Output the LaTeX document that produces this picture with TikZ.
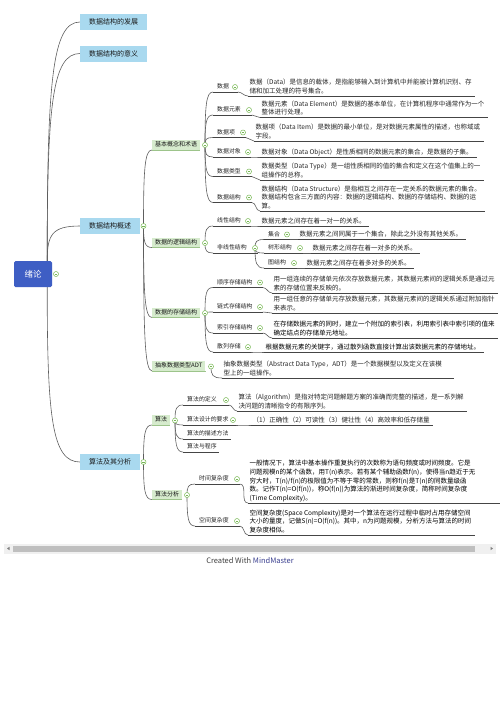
\documentclass[tikz,border=0pt]{standalone}
\usepackage{fontspec}
\setmainfont{Noto Sans CJK SC}
\usetikzlibrary{calc}
\pgfdeclarelayer{bg}
\pgfdeclarelayer{paper}
\pgfsetlayers{paper,bg,main}
\definecolor{rootblue}{HTML}{3E5EC4}
\definecolor{lonebg}{HTML}{A9D9EF}
\definecolor{ltwobg}{HTML}{D6EBCD}
\definecolor{ltwoln}{HTML}{9DC48B}
\definecolor{conncol}{HTML}{5E5E5E}
\definecolor{ulcol}{HTML}{454545}
\definecolor{toggcol}{HTML}{78B955}
\definecolor{txtcol}{HTML}{262626}
\definecolor{mmblue}{HTML}{3A3F8F}
\newcommand\leaffont{\fontsize{6.5}{8.6}\selectfont}
\newcommand\labfont{\fontsize{5.9}{7}\selectfont}
\tikzset{
 rootbox/.style={fill=rootblue,text=white,minimum width=38pt,minimum height=26pt,inner sep=0pt,rounded corners=1.5pt,font=\fontsize{8.5}{10}\selectfont},
 lonebox/.style={fill=lonebg,anchor=west,minimum height=16pt,inner xsep=9pt,inner ysep=0pt,text=black!90,font=\fontsize{7}{8}\selectfont},
 ltwobox/.style={fill=ltwobg,anchor=south west,inner xsep=3pt,inner ysep=2pt,text height=4.6pt,text depth=1.2pt,text=black!90,font=\fontsize{6}{7}\selectfont},
 lab/.style={anchor=south west,inner xsep=4pt,inner ysep=1.6pt,text height=4.6pt,text depth=1.3pt,text=txtcol,font=\labfont},
 leafnode/.style={anchor=south west,align=left,inner xsep=1.5pt,inner ysep=0.9pt,text=txtcol,font=\leaffont,execute at end node={\rule[-1.6pt]{0pt}{1.6pt}}},
 tog/.style={circle,draw=toggcol,fill=white,line width=0.5pt,minimum size=5pt,inner sep=0pt,path picture={\draw[toggcol,line width=0.5pt] ([xshift=-1.3pt]path picture bounding box.center) -- ([xshift=1.3pt]path picture bounding box.center);}},
 conn/.style={draw=conncol,line width=0.6pt},
 ul/.style={draw=ulcol,line width=0.6pt},
 elbow/.style={to path={let \p1=(\tikztostart),\p2=(\tikztotarget) in .. controls (\x1,{\y2+0.25*(\y1-\y2)}) and ({\x1+0.15*(\x2-\x1)},\y2) .. (\tikztotarget)}},
 scurve/.style={out=0,in=180},
}
\newcommand\labc[5]{%
  \node[lab] (#1) at (#2,#3) {#4};
  \node[tog] (#1c) at (#5,#3-5) {};
  \draw[ul] (#1.south west) -- (#1c.east |- #1.south);}
\newcommand\labn[4]{%
  \node[lab] (#1) at (#2,#3) {#4};
  \draw[ul] (#1.south west) -- ([xshift=-2pt]#1.south east);}
\newcommand\leafx[5]{%
  \node[leafnode] (#1) at (#2,#3) {#5};
  \draw[ul] (#1.south west) -- ([xshift=#4pt]#1.south east);}
\begin{document}
\begin{tikzpicture}[x=1pt,y=-1pt]
\begin{pgfonlayer}{paper}
\fill[white] (0,0) rectangle (500,707);
\end{pgfonlayer}
\useasboundingbox (0,0) rectangle (500,707);

% root and level 1
\node[rootbox] (root) at (33,274) {绪论};
\node[lonebox] (dev) at (80,22) {数据结构的发展};
\node[lonebox] (mean) at (80,53.5) {数据结构的意义};
\node[lonebox] (ovw) at (80,226) {数据结构概述};
\node[lonebox] (alg) at (80,462) {算法及其分析};
\node[tog] (rootc) at (56,274) {};
\node[tog] (ovwc) at (143.5,226) {};
\node[tog] (algc) at (143.5,462) {};

% level 2
\node[ltwobox] (b1) at (152,150) {基本概念和术语};
\node[ltwobox] (b2) at (152,247.5) {数据的逻辑结构};
\node[ltwobox] (b3) at (152,317.5) {数据的存储结构};
\node[ltwobox] (b4) at (152,371) {抽象数据类型ADT};
\node[ltwobox] (b5) at (152,425) {算法};
\node[ltwobox] (b6) at (152,499.5) {算法分析};
\foreach \b in {b1,b2,b3,b4,b5,b6}
  \draw[draw=ltwoln,line width=0.6pt] (\b.south west) -- (\b.south east);
\node[tog] (b1c) at (205,145) {};
\node[tog] (b2c) at (205,243) {};
\node[tog] (b3c) at (205,313) {};
\node[tog] (b4c) at (211,366.5) {};
\node[tog] (b5c) at (175,420.5) {};
\node[tog] (b6c) at (187,495) {};

% level 3 labels
\labc{d1}{213}{92}{数据}{235}
\labc{d2}{213}{115}{数据元素}{249}
\labc{d3}{213}{137.5}{数据项}{243}
\labc{d4}{213}{157}{数据对象}{248}
\labc{d5}{213}{176.5}{数据类型}{249}
\labc{d6}{213}{202.5}{数据结构}{249}
\labc{e1}{213}{226}{线性结构}{248}
\labc{e2}{213}{253}{非线性结构}{255}
\labc{f1}{264}{239.5}{集合}{287}
\labc{f2}{264}{253}{树形结构}{300}
\labc{f3}{264}{268}{图结构}{294}
\labc{g1}{213}{287.5}{顺序存储结构}{260}
\labc{g2}{213}{312}{链式存储结构}{260}
\labc{g3}{213}{333}{索引存储结构}{260}
\labc{g4}{213}{352}{散列存储}{248}
\labc{i1}{183}{405}{算法的定义}{226}
\labc{i2}{183}{425}{算法设计的要求}{233}
\labn{i3}{183}{439}{算法的描述方法}
\labn{i4}{183}{452}{算法与程序}
\labc{j1}{195}{484}{时间复杂度}{237}
\labc{j2}{195}{526}{空间复杂度}{237}

% leaves
\leafx{d1l}{248}{96}{2}{数据（Data）是信息的载体，是指能够输入到计算机中并能被计算机识别、存\\储和加工处理的符号集合。}
\leafx{d2l}{260}{117.5}{2}{数据元素（Data Element）是数据的基本单位，在计算机程序中通常作为一个\\整体进行处理。}
\leafx{d3l}{254}{141}{2}{数据项（Data Item）是数据的最小单位，是对数据元素属性的描述，也称域或\\字段。}
\leafx{d4l}{260}{157}{3}{数据对象（Data Object）是性质相同的数据元素的集合，是数据的子集。}
\leafx{d5l}{260}{180}{2}{数据类型（Data Type）是一组性质相同的值的集合和定义在这个值集上的一\\组操作的总称。}
\leafx{d6l}{260}{211}{2}{数据结构（Data Structure）是指相互之间存在一定关系的数据元素的集合。\\数据结构包含三方面的内容：数据的逻辑结构、数据的存储结构、数据的运\\算。}
\leafx{e1l}{260}{226}{2}{数据元素之间存在着一对一的关系。}
\leafx{f1l}{298}{239.5}{2}{数据元素之间同属于一个集合，除此之外没有其他关系。}
\leafx{f2l}{311}{253}{2}{数据元素之间存在着一对多的关系。}
\leafx{f3l}{305}{268}{2}{数据元素之间存在着多对多的关系。}
\leafx{g1l}{272}{293}{2}{用一组连续的存储单元依次存放数据元素，其数据元素间的逻辑关系是通过元\\素的存储位置来反映的。}
\leafx{g2l}{272}{313}{2}{用一组任意的存储单元存放数据元素，其数据元素间的逻辑关系通过附加指针\\来表示。}
\leafx{g3l}{272}{338}{2}{\color{black}在存储数据元素的同时，建立一个附加的索引表，利用索引表中索引项的值来\\\color{black}确定结点的存储单元地址。}
\leafx{g4l}{264}{352}{2}{\color{black}根据数据元素的关键字，通过散列函数直接计算出该数据元素的存储地址。}
\leafx{h1l}{222}{378}{10}{抽象数据类型（Abstract Data Type，ADT）是一个数据模型以及定义在该模\\型上的一组操作。}
\leafx{i1l}{237}{411}{2}{算法（Algorithm）是指对特定问题解题方案的准确而完整的描述，是一系列解\\决问题的清晰指令的有限序列。}
\leafx{i2l}{251}{425}{2}{（1）正确性（2）可读性（3）健壮性（4）高效率和低存储量}
\leafx{j1l}{248}{503}{25}{\color{black}一般情况下，算法中基本操作重复执行的次数称为语句频度或时间频度。它是\\\color{black}问题规模n的某个函数，用T(n)表示。若有某个辅助函数f(n)，使得当n趋近于无\\\color{black}穷大时，T(n)/f(n)的极限值为不等于零的常数，则称f(n)是T(n)的同数量级函\\\color{black}数。记作T(n)=O(f(n))，称O(f(n))为算法的渐进时间复杂度，简称时间复杂度\\\color{black}(Time Complexity)。}
\leafx{j2l}{248}{535}{2}{\color{black}空间复杂度(Space Complexity)是对一个算法在运行过程中临时占用存储空间\\\color{black}大小的量度，记做S(n)=O(f(n))。其中，n为问题规模，分析方法与算法的时间\\\color{black}复杂度相似。}

% connectors
\begin{pgfonlayer}{bg}
\draw[conn] ([xshift=-5pt]root.north east) to[elbow] (dev.west);
\draw[conn] ([xshift=-5pt]root.north east) to[elbow] (mean.west);
\draw[conn] ([xshift=-5pt]root.north east) to[elbow] (ovw.west);
\draw[conn] ([xshift=-5pt]root.south east) to[elbow] (alg.west);
\foreach \t in {b1,b2,b3,b4}
  \draw[conn] (ovwc.center) to[elbow] (\t.south west);
\foreach \t in {b5,b6}
  \draw[conn] (algc.center) to[elbow] (\t.south west);
\foreach \t in {d1,d2,d3,d4,d5,d6}
  \draw[conn] (b1c.center) to[elbow] (\t.south west);
\foreach \t in {e1,e2}
  \draw[conn] (b2c.center) to[elbow] (\t.south west);
\foreach \t in {f1,f2,f3}
  \draw[conn] (e2c.center) to[elbow] (\t.south west);
\foreach \t in {g1,g2,g3,g4}
  \draw[conn] (b3c.center) to[elbow] (\t.south west);
\draw[conn] (b4c.center) to[elbow] (h1l.south west);
\foreach \t in {i1,i2,i3,i4}
  \draw[conn] (b5c.center) to[elbow] (\t.south west);
\foreach \t in {j1,j2}
  \draw[conn] (b6c.center) to[elbow] (\t.south west);
\foreach \t in {d1,d2,d3,d4,d5,d6,e1,f1,f2,f3,g1,g2,g3,g4,i1,i2,j1,j2}
  \draw[conn] (\t c.east |- \t.south) to[scurve] (\t l.south west);
\end{pgfonlayer}

% scroll bar and footer
\fill[black!6] (4,543.5) rectangle (496,553.5);
\fill[black!25] (13,545.5) rectangle (475,551.5);
\fill[black!50] (7,548.5) -- (9.5,546.8) -- (9.5,550.2) -- cycle;
\fill[black!50] (493,548.5) -- (490.5,546.8) -- (490.5,550.2) -- cycle;
\node[font=\fontsize{7.5}{9}\selectfont,text=black!75] (credit) at (250,561) {Created With \textcolor{mmblue}{MindMaster}};
\end{tikzpicture}
\end{document}
